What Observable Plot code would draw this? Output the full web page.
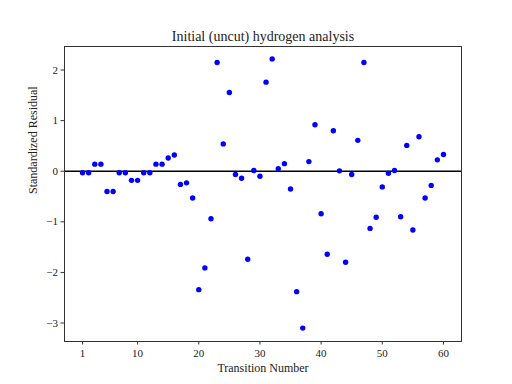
<!DOCTYPE html>
<html><head>
<meta charset="utf-8">
<script src="https://cdn.jsdelivr.net/npm/d3@7"></script>
<script src="https://cdn.jsdelivr.net/npm/@observablehq/plot@0.6"></script>
<style>body{margin:0;background:#fff}</style>
</head><body><div id="chart"></div>
<script>
const transitions = d3.range(1, 61);
const residuals = [
  -0.03, -0.03, 0.14, 0.14, -0.40, -0.40, -0.03, -0.03, -0.18, -0.18,
  -0.03, -0.03, 0.14, 0.14, 0.26, 0.32, -0.26, -0.23, -0.53, -2.34,
  -1.91, -0.94, 2.15, 0.54, 1.555, -0.065, -0.14, -1.74, 0.014, -0.10,
  1.76, 2.22, 0.05, 0.15, -0.35, -2.38, -3.10, 0.19, 0.92, -0.84,
  -1.64, 0.80, 0.008, -1.80, -0.065, 0.61, 2.15, -1.13, -0.91, -0.31,
  -0.04, 0.014, -0.90, 0.51, -1.16, 0.68, -0.53, -0.28, 0.225, 0.33
];
const xTicks = [1, 10, 20, 30, 40, 50, 60];
const yTicks = [-3, -2, -1, 0, 1, 2];
const titleText = "Initial (uncut) hydrogen analysis";
const xLabel = "Transition Number";
const yLabel = "Standardized Residual";

const data = transitions.map((t, i) => ({t, r: residuals[i]}));
const font = "'Liberation Serif', 'DejaVu Serif', serif";

const chart = Plot.plot({
  width: 512, height: 384,
  marginLeft: 64, marginRight: 51, marginTop: 46, marginBottom: 43,
  style: {fontFamily: font, fontSize: "11px", background: "#fff", color: "#222"},
  x: {domain: [-1.95, 62.95]},
  y: {domain: [-3.365, 2.465]},
  marks: [
    Plot.ruleY([0], {stroke: "black", strokeWidth: 1.5}),
    Plot.dot(data, {x: "t", y: "r", r: 2.7, fill: "#0000ff", stroke: "none"}),
    Plot.frame({stroke: "#333", strokeWidth: 1}),
    Plot.axisX(xTicks, {tickSize: 3.5, tickPadding: 4, fontSize: 11, label: null, stroke: "#333"}),
    Plot.axisY(yTicks, {tickSize: 3.5, tickPadding: 3, fontSize: 11, label: null, stroke: "#333",
      tickFormat: d => d < 0 ? "\u2212" + (-d) : String(d)}),
    Plot.text([xLabel], {text: d => d, frameAnchor: "bottom", lineAnchor: "middle", dy: 27, fontSize: 12, fill: "#222"}),
    Plot.text([yLabel], {text: d => d, frameAnchor: "left", lineAnchor: "middle", dx: -31, rotate: -90, fontSize: 12, fill: "#222"}),
    Plot.text([titleText], {text: d => d, frameAnchor: "top", lineAnchor: "middle", dy: -10, fontSize: 14, fill: "#222"})
  ]
});
document.getElementById("chart").appendChild(chart);
</script>
</body></html>
